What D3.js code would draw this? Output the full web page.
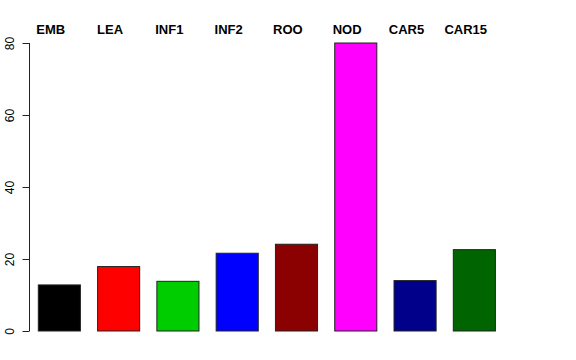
<!DOCTYPE html>
<html>
<head>
<meta charset="utf-8">
<script src="https://cdn.jsdelivr.net/npm/d3@7"></script>
<style>
  body { margin: 0; background: #fff; }
</style>
</head>
<body>
<div id="canvas"></div>
<script>
// valores
const categories = ["EMB", "LEA", "INF1", "INF2", "ROO", "NOD", "CAR5", "CAR15"];
const values = [12.8, 17.9, 13.8, 21.6, 24.1, 80, 14.0, 22.6];
const colors = ["#000000", "#ff0000", "#00cd00", "#0000ff", "#8b0000", "#ff00ff", "#00008b", "#006400"];
const yTicks = [0, 20, 40, 60, 80];

const width = 576;
const height = 360;

const svg = d3.select("#canvas").append("svg")
    .attr("width", width)
    .attr("height", height);

const x = d3.scaleBand()
    .domain(categories)
    .range([38.3, 495.4])
    .paddingInner(0.29)
    .paddingOuter(0);

const y = d3.scaleLinear()
    .domain([0, 80])
    .range([331, 43]);

svg.selectAll("rect.bar").data(categories)
    .enter().append("rect")
    .attr("class", "bar")
    .attr("x", d => x(d))
    .attr("y", (d, i) => y(values[i]))
    .attr("width", x.bandwidth())
    .attr("height", (d, i) => y(0) - y(values[i]))
    .style("fill", (d, i) => colors[i])
    .style("stroke", "#222")
    .style("stroke-width", 1);

// eje y
const yAxis = svg.append("g")
    .attr("transform", "translate(29.5,0)")
    .call(d3.axisLeft(y).tickValues(yTicks).tickSize(7).tickPadding(0).tickFormat(d3.format("d")));

yAxis.select(".domain")
    .attr("d", `M0,${y(80)}V${y(0)}`)
    .style("stroke", "#222");
yAxis.selectAll(".tick line").style("stroke", "#222");
yAxis.selectAll(".tick text")
    .attr("x", null)
    .attr("dy", null)
    .attr("transform", "translate(-16,0) rotate(-90)")
    .attr("text-anchor", "middle")
    .style("font-family", "Liberation Sans, Arial, sans-serif")
    .style("font-size", "12px")
    .style("fill", "#000");

// etiquetas arriba
svg.selectAll("text.cat").data(categories)
    .enter().append("text")
    .attr("class", "cat")
    .attr("x", d => x(d) + x.bandwidth() / 2 - 8.6)
    .attr("y", 34)
    .attr("text-anchor", "middle")
    .style("font-family", "Liberation Sans, Arial, sans-serif")
    .style("font-weight", "bold")
    .style("font-size", "13px")
    .text(d => d);
</script>
</body>
</html>
